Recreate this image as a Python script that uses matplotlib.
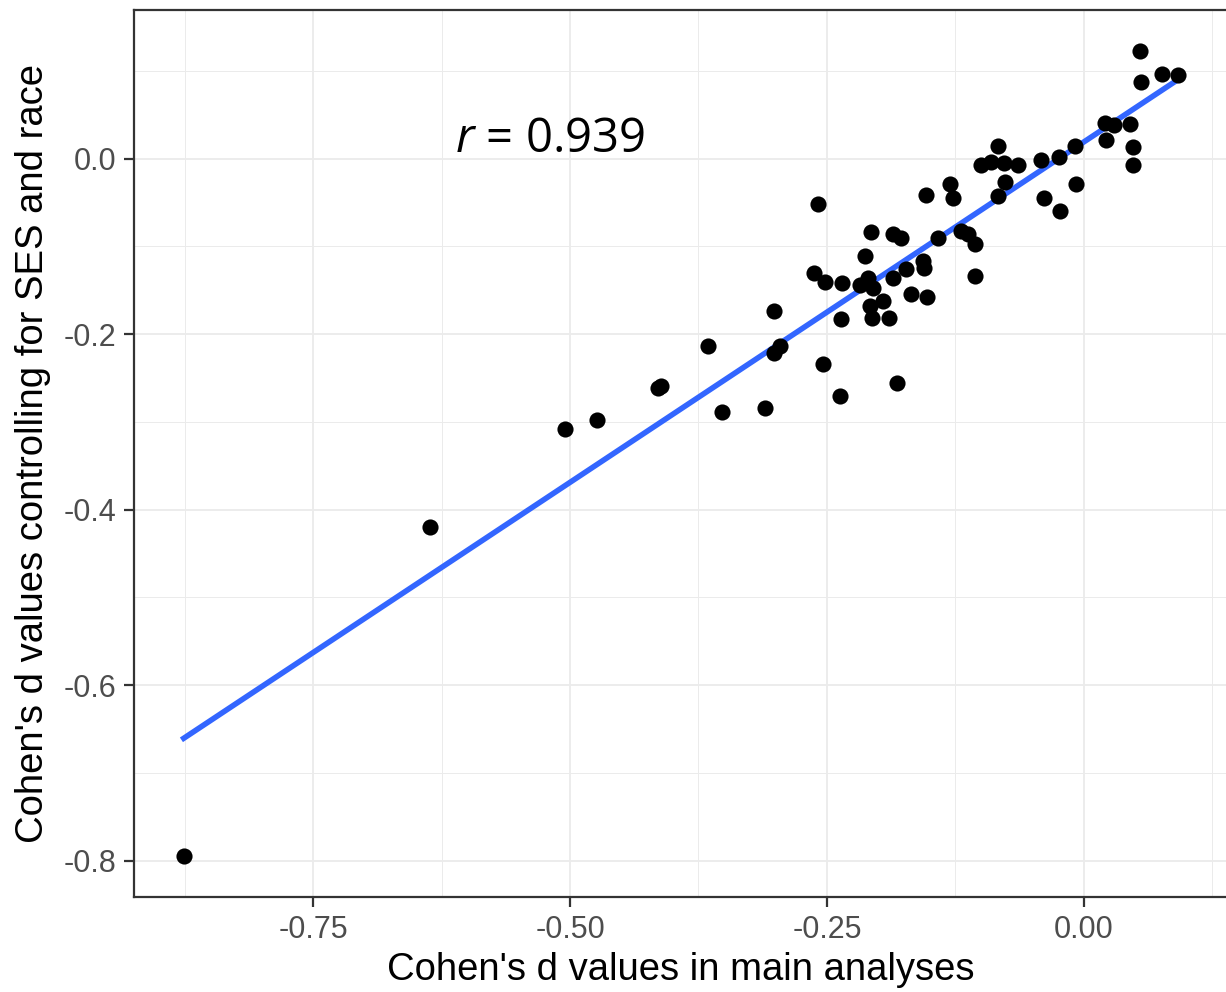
"""
Nuage de points : d de Cohen des analyses principales vs. d de Cohen
après contrôle du SES et de la race, avec droite de régression linéaire.
"""

import matplotlib
matplotlib.use("Agg")
import matplotlib.pyplot as plt
import numpy as np

# d values in main analyses (x) and controlling for SES and race (y)
d_main = [
    0.055, 0.076, 0.092, 0.056, 0.021, 0.029, 0.045, 0.022, 0.048, 0.048,
    -0.009, -0.008, -0.024, -0.042, -0.039, -0.023, -0.083, -0.100, -0.090, -0.078,
    -0.064, -0.077, -0.083, -0.130, -0.127, -0.154, -0.259, -0.207, -0.186, -0.178,
    -0.142, -0.119, -0.113, -0.106, -0.213, -0.263, -0.252, -0.235, -0.218, -0.210,
    -0.205, -0.186, -0.173, -0.156, -0.155, -0.168, -0.153, -0.106, -0.208, -0.195,
    -0.206, -0.190, -0.301, -0.236, -0.366, -0.296, -0.301, -0.254, -0.182, -0.237,
    -0.310, -0.352, -0.414, -0.411, -0.474, -0.505, -0.636, -0.876,
]
d_controlled = [
    0.123, 0.097, 0.095, 0.087, 0.041, 0.038, 0.040, 0.021, 0.013, -0.007,
    0.015, -0.029, 0.002, -0.002, -0.045, -0.060, 0.015, -0.007, -0.004, -0.005,
    -0.007, -0.026, -0.042, -0.029, -0.045, -0.041, -0.052, -0.084, -0.086, -0.090,
    -0.090, -0.082, -0.086, -0.097, -0.111, -0.130, -0.141, -0.142, -0.144, -0.136,
    -0.147, -0.136, -0.126, -0.117, -0.125, -0.154, -0.158, -0.134, -0.168, -0.162,
    -0.181, -0.181, -0.174, -0.183, -0.213, -0.213, -0.221, -0.234, -0.256, -0.270,
    -0.284, -0.289, -0.261, -0.259, -0.298, -0.308, -0.420, -0.795,
]
r_label = "0.939"

x = np.array(d_main)
y = np.array(d_controlled)

plt.rcParams["font.family"] = ["Liberation Sans", "DejaVu Sans"]
plt.rcParams["mathtext.fontset"] = "custom"
plt.rcParams["mathtext.it"] = "Open Sans:italic"
plt.rcParams["mathtext.rm"] = "Open Sans"

W, H = 1226, 992
fig = plt.figure(figsize=(W / 100, H / 100), dpi=100)
ax = fig.add_axes([134 / W, (H - 896.5) / H, (1228 - 134) / W, (896.5 - 10.5) / H])

# expansion de 5 % comme ggplot
def expand(v, f=0.05):
    lo, hi = v.min(), v.max()
    pad = (hi - lo) * f
    return lo - pad, hi + pad

ax.set_xlim(*expand(x))
ax.set_ylim(*expand(y))

ax.set_xticks([-0.75, -0.5, -0.25, 0.0])
ax.set_xticklabels(["-0.75", "-0.50", "-0.25", "0.00"])
ax.set_xticks([-0.875, -0.625, -0.375, -0.125, 0.125], minor=True)
ax.set_yticks([-0.8, -0.6, -0.4, -0.2, 0.0])
ax.set_yticklabels(["-0.8", "-0.6", "-0.4", "-0.2", "0.0"])
ax.set_yticks([-0.7, -0.5, -0.3, -0.1, 0.1], minor=True)

ax.grid(which="major", color="#EBEBEB", linewidth=1.3)
ax.grid(which="minor", color="#EBEBEB", linewidth=0.7)
ax.set_axisbelow(True)

for s in ax.spines.values():
    s.set_color("#333333")
    s.set_linewidth(1.6)

ax.tick_params(which="major", length=7, width=1.6, color="#333333",
               labelsize=22, labelcolor="#4D4D4D", pad=6)
ax.tick_params(which="minor", length=0)

# droite de régression (lm)
slope, intercept = np.polyfit(x, y, 1)
xs = np.array([x.min(), x.max()])
ax.plot(xs, intercept + slope * xs, color="#3366FF", linewidth=4, zorder=2)

ax.scatter(x, y, s=135, color="black", linewidths=0, zorder=3)

ax.text(-0.612, 0.008, "$r$ = " + r_label, fontfamily="Open Sans", fontsize=34,
        ha="left", va="baseline", color="black")

ax.set_xlabel("Cohen's d values in main analyses", fontsize=27.5, labelpad=5)
ax.set_ylabel("Cohen's d values controlling for SES and race", fontsize=27.5, labelpad=9)

fig.savefig("out.png", dpi=100)
